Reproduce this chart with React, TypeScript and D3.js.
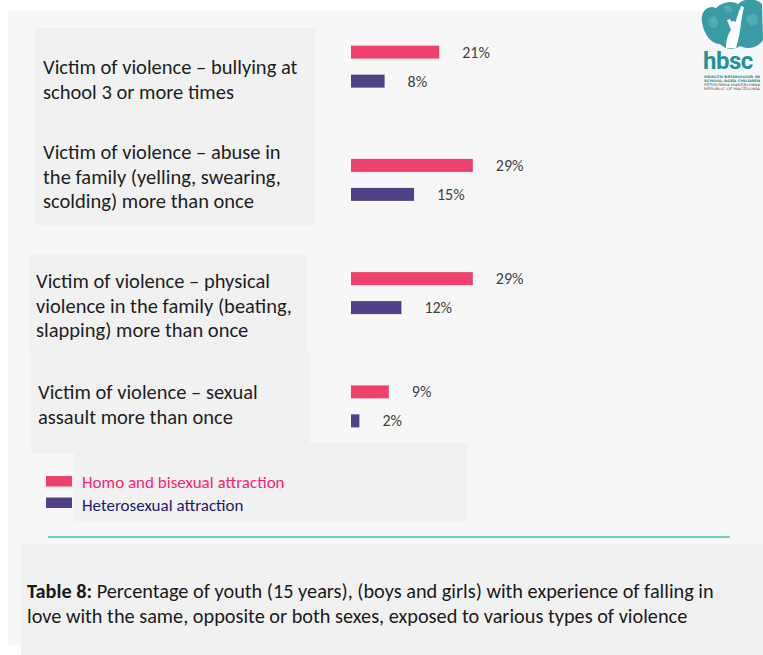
import React, { useEffect, useRef } from "react";
import * as d3 from "d3";

// chart data
const categories = ["bullying", "abuse", "physical", "sexual"];
const categoryLines = [
  ["Victim of violence – bullying at", "school 3 or more times"],
  ["Victim of violence – abuse in", "the family (yelling, swearing,", "scolding) more than once"],
  ["Victim of violence – physical", "violence in the family (beating,", "slapping) more than once"],
  ["Victim of violence – sexual", "assault more than once"],
];
const seriesNames = ["Homo and bisexual attraction", "Heterosexual attraction"];
const homoBisexual = [21, 29, 29, 9];
const heterosexual = [8, 15, 12, 2];
const captionBold = "Table 8:";
const captionLines = [
  " Percentage of youth (15 years), (boys and girls) with experience of falling in",
  "love with the same, opposite or both sexes, exposed to various types of violence",
];

const COLORS = ["#f0406e", "#514189"];
const LEGEND_TEXT = ["#ff1f6e", "#1b1a6e"];
const FONT = "Carlito, Calibri, Lato, sans-serif";

// hand placed grey label boxes (the source slide is not regular)
const labelBoxes = [
  { x: 35, y: 28, w: 280, h: 97, tx: 43, ty: 67 },
  { x: 35, y: 122, w: 280, h: 103, tx: 43, ty: 152 },
  { x: 29, y: 255, w: 278, h: 97, tx: 36, ty: 281 },
  { x: 31, y: 352, w: 279, h: 101, tx: 38, ty: 392 },
];

const App = () => {
  const svgRef = useRef<SVGSVGElement>(null);

  useEffect(() => {
    const svg = d3.select(svgRef.current);
    const width = 763;
    const height = 655;
    svg.selectAll("*").remove();

    // backgrounds
    svg.append("rect").attr("width", width).attr("height", height).attr("fill", "#ffffff");
    svg.append("rect").attr("x", 8).attr("y", 11).attr("width", width - 8).attr("height", 634).attr("fill", "#f7f7f7");

    labelBoxes.forEach((b) => {
      svg.append("rect").attr("x", b.x).attr("y", b.y).attr("width", b.w).attr("height", b.h).attr("fill", "#f1f1f1");
    });
    // legend box
    svg.append("rect").attr("x", 74).attr("y", 443).attr("width", 393).attr("height", 78).attr("fill", "#f1f1f1");

    const y0 = d3.scaleBand().domain(categories).range([10, 463]);
    const y1 = d3.scalePoint().domain(seriesNames).range([-14.5, 14.5]);
    const x = d3.scaleLinear().domain([0, 30]).range([351, 477]);
    const barH = 13;

    const rows = categories.map((c, i) => ({ c, i, values: [homoBisexual[i], heterosexual[i]] }));

    // category labels
    rows.forEach((r) => {
      const b = labelBoxes[r.i];
      const t = svg
        .append("text")
        .attr("font-family", FONT)
        .attr("font-size", 20.5)
        .attr("fill", "#1e1e1e");
      categoryLines[r.i].forEach((line, j) => {
        t.append("tspan").attr("x", b.tx).attr("y", b.ty + j * 24.6).attr("dy", "0.35em").text(line);
      });
    });

    // bars
    const g = svg.append("g");
    rows.forEach((r) => {
      const cy = y0(r.c)! + y0.bandwidth() / 2;
      r.values.forEach((v, k) => {
        const by = cy + y1(seriesNames[k])!;
        g.append("rect")
          .attr("x", x(0))
          .attr("y", by - barH / 2)
          .attr("width", x(v) - x(0))
          .attr("height", barH)
          .attr("fill", COLORS[k]);
        g.append("text")
          .attr("x", x(v) + 23)
          .attr("y", by)
          .attr("dy", "0.35em")
          .attr("font-family", FONT)
          .attr("font-size", 16)
          .attr("fill", "#404040")
          .text(`${v}%`);
      });
    });

    // legend
    seriesNames.forEach((s, k) => {
      svg.append("rect").attr("x", 46).attr("y", 476 + k * 21.5).attr("width", 26).attr("height", 10.5).attr("fill", COLORS[k]);
      svg.append("text")
        .attr("x", 82)
        .attr("y", 482 + k * 23.5)
        .attr("dy", "0.35em")
        .attr("font-family", FONT)
        .attr("font-size", 17)
        .attr("fill", LEGEND_TEXT[k])
        .text(s);
    });

    // teal rule
    svg.append("line").attr("x1", 48).attr("x2", 730).attr("y1", 537).attr("y2", 537).attr("stroke", "#6dd0c0").attr("stroke-width", 2);

    // caption
    svg.append("rect").attr("x", 21).attr("y", 544).attr("width", width - 21).attr("height", height - 544).attr("fill", "#f1f1f1");
    const cap = svg.append("text").attr("font-family", FONT).attr("font-size", 20.3).attr("fill", "#1a1a1a");
    const l1 = cap.append("tspan").attr("x", 27).attr("y", 598);
    l1.append("tspan").attr("font-weight", "bold").text(captionBold);
    l1.append("tspan").text(captionLines[0]);
    cap.append("tspan").attr("x", 27).attr("y", 623).text(captionLines[1]);

    // hbsc logo: teal leaf mass with a white figure, then the wordmark
    const logo = svg.append("g");
    const teal = "#23919a";
    logo.append("path").attr("fill", teal).attr("opacity", 0.9)
      .attr("d", "M702,22 C700,12 708,4 716,8 C722,2 732,0 738,4 C744,-2 756,-2 762,4 L763,40 C758,48 748,50 740,46 C734,50 726,50 720,44 C712,44 704,36 702,22 Z");
    logo.append("path").attr("fill", "#5fb7bd").attr("opacity", 0.6)
      .attr("d", "M708,20 C712,14 718,16 718,24 C716,30 710,30 708,20 Z M746,18 C750,12 758,12 758,20 C756,28 748,28 746,18 Z M724,6 C728,4 734,6 732,12 C728,14 724,12 724,6 Z");
    logo.append("path").attr("fill", "#ffffff")
      .attr("d", "M726,48 C726,40 728,34 731,30 L727,20 L730,19 L734,27 L738,14 L741,6 L744,7 L742,16 L740,30 C739,38 737,44 736,48 Z");
    logo.append("circle").attr("cx", 733).attr("cy", 24).attr("r", 3).attr("fill", "#ffffff");
    logo.append("text").attr("x", 703).attr("y", 69).attr("font-family", "Roboto, sans-serif").attr("font-weight", "bold").attr("font-size", 24).attr("letter-spacing", -0.5).attr("fill", teal).text("hbsc");
    const small = [["HEALTH BEHAVIOUR IN", 77.5, "bold"], ["SCHOOL-AGED CHILDREN", 81.6, "bold"], ["РЕПУБЛИКА МАКЕДОНИЈА", 85.7, "normal"], ["REPUBLIC OF MACEDONIA", 89.8, "normal"]];
    small.forEach(([t, yy, w]) => {
      logo.append("text").attr("x", 704).attr("y", yy as number).attr("font-family", "DejaVu Sans, sans-serif").attr("font-size", 3.3).attr("font-weight", w as string).attr("textLength", 56).attr("lengthAdjust", "spacingAndGlyphs").attr("fill", (w === "bold" ? teal : "#555")).text(t as string);
    });
  }, []);

  return (
    <svg ref={svgRef} width={763} height={655} style={{ position: "absolute", left: 0, top: 0 }}></svg>
  );
};

export default App;
